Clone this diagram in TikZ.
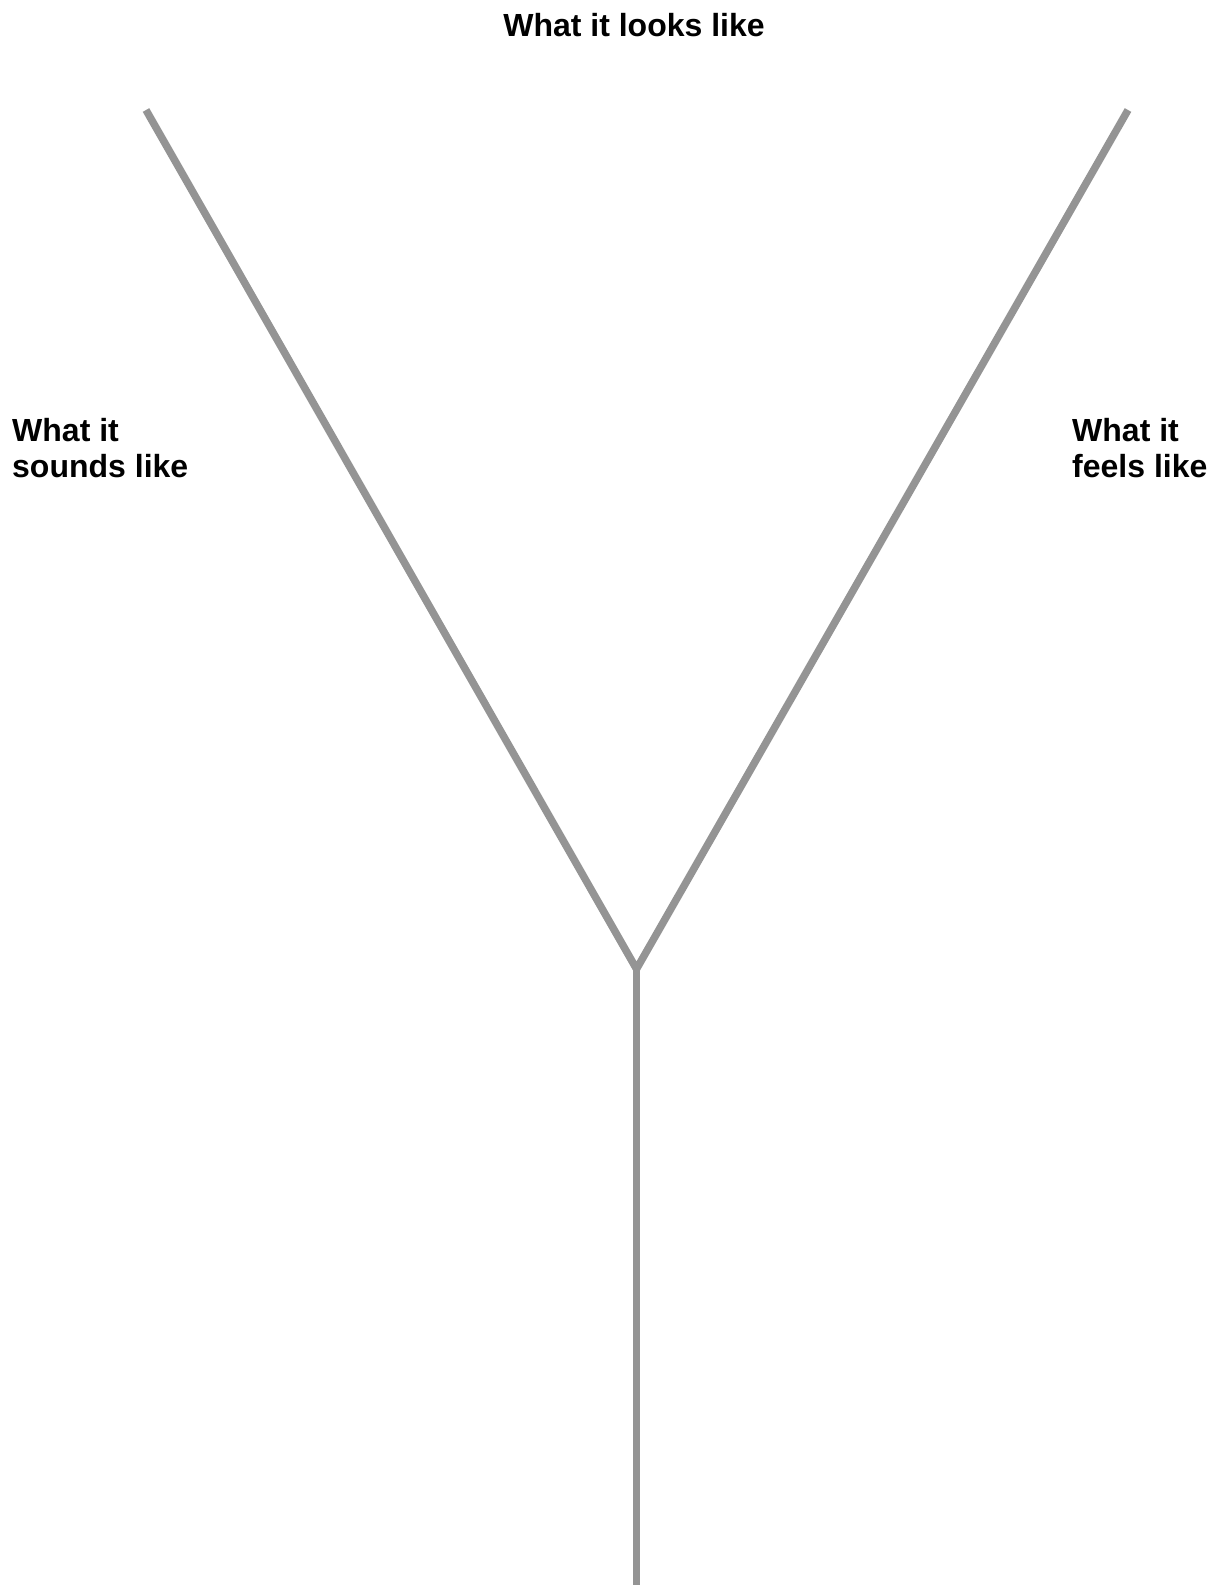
\documentclass[tikz,border=0pt]{standalone}
\usepackage{fontspec}
\setmainfont{Liberation Sans}
\definecolor{stemgray}{RGB}{148,148,148}
\begin{document}
\begin{tikzpicture}[x=1pt,y=-1pt,
  branch/.style={draw=stemgray,line width=7.5pt},
  label/.style={inner sep=0pt,font=\fontsize{32}{36}\selectfont\bfseries,align=left}]
\useasboundingbox (0,0) rectangle (1228,1585);
\coordinate (tl) at (146,110);
\coordinate (tr) at (1128,110);
\coordinate (j) at (636.5,969);
\coordinate (b) at (636.5,1590);
\draw[branch] (tl) -- (j) -- (tr);
\draw[branch] (j) -- (b);
\node[label,anchor=base] (top) at (634,36) {What it looks like};
\node[label,anchor=base west] (left1) at (12,441) {What it};
\node[label,anchor=base west] (left2) at (12,477) {sounds like};
\node[label,anchor=base west] (right1) at (1072,441) {What it};
\node[label,anchor=base west] (right2) at (1072,477) {feels like};
\end{tikzpicture}
\end{document}
